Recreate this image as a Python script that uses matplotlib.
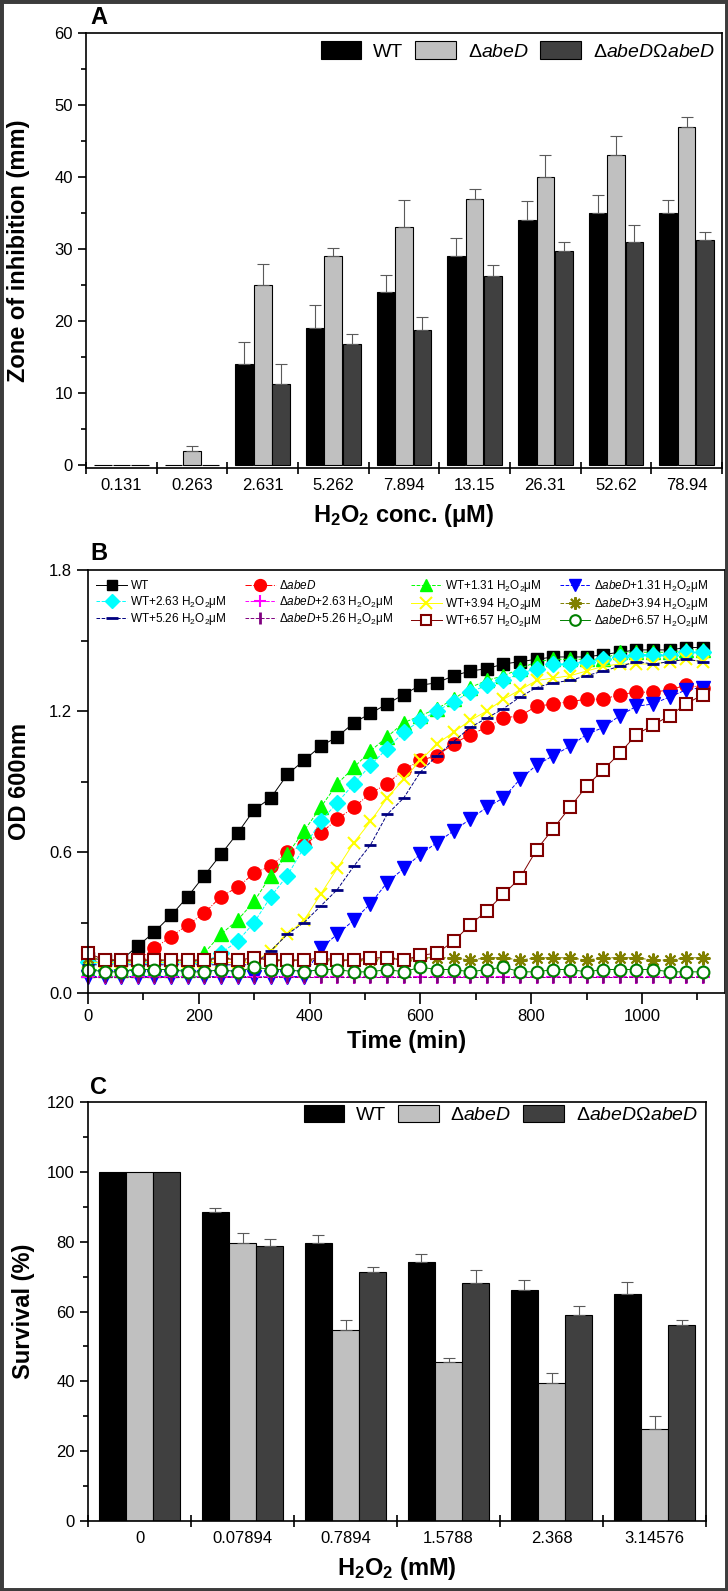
import numpy as np
import matplotlib
matplotlib.use('Agg')
import matplotlib.pyplot as plt
from matplotlib import font_manager
from matplotlib.patches import Rectangle

# ---- panel A: zone of inhibition ----
conc_a = ['0.131', '0.263', '2.631', '5.262', '7.894', '13.15', '26.31', '52.62', '78.94']
zone_wt = [0, 0, 14.0, 19.0, 24.0, 29.0, 34.0, 35.0, 35.0]
zone_wt_err = [0, 0, 3.1, 3.2, 2.4, 2.5, 2.7, 2.5, 1.8]
zone_ko = [0, 2.0, 25.0, 29.0, 33.0, 37.0, 40.0, 43.0, 47.0]
zone_ko_err = [0, 0.7, 2.9, 1.2, 3.8, 1.3, 3.0, 2.7, 1.4]
zone_comp = [0, 0, 11.2, 16.8, 18.8, 26.2, 29.7, 31.0, 31.2]
zone_comp_err = [0, 0, 2.8, 1.4, 1.8, 1.6, 1.3, 2.3, 1.1]

# ---- panel B: growth curves (OD600) ----
time_min = list(range(0, 1111, 30))
od_wt = [0.15, 0.14, 0.14, 0.20, 0.26, 0.33, 0.41, 0.50, 0.59, 0.68, 0.78, 0.83, 0.93, 0.99, 1.05, 1.09, 1.15, 1.19, 1.23,
         1.27, 1.31, 1.32, 1.35, 1.37, 1.38, 1.40, 1.41, 1.42, 1.43, 1.43, 1.43, 1.44, 1.45, 1.46, 1.46, 1.46, 1.47, 1.47]
od_ko = [0.14, 0.13, 0.13, 0.14, 0.19, 0.24, 0.29, 0.34, 0.41, 0.45, 0.51, 0.54, 0.60, 0.63, 0.68, 0.74, 0.79, 0.85, 0.89,
         0.95, 0.99, 1.01, 1.06, 1.10, 1.13, 1.17, 1.18, 1.22, 1.23, 1.24, 1.25, 1.25, 1.27, 1.28, 1.28, 1.29, 1.31, 1.30]
od_wt_131 = [0.10, 0.10, 0.10, 0.10, 0.10, 0.10, 0.10, 0.17, 0.25, 0.31, 0.39, 0.50, 0.59, 0.69, 0.79, 0.89, 0.96, 1.03, 1.09,
             1.15, 1.18, 1.21, 1.25, 1.30, 1.33, 1.35, 1.38, 1.41, 1.42, 1.42, 1.42, 1.42, 1.45, 1.45, 1.45, 1.45, 1.46, 1.46]
od_ko_131 = [0.07, 0.07, 0.07, 0.07, 0.07, 0.07, 0.07, 0.07, 0.07, 0.07, 0.07, 0.07, 0.07, 0.07, 0.19, 0.25, 0.31, 0.38, 0.47,
             0.53, 0.59, 0.64, 0.69, 0.74, 0.79, 0.83, 0.91, 0.97, 1.01, 1.05, 1.10, 1.13, 1.18, 1.22, 1.23, 1.26, 1.29, 1.30]
od_wt_263 = [0.13, 0.13, 0.13, 0.13, 0.13, 0.13, 0.13, 0.13, 0.17, 0.22, 0.30, 0.41, 0.50, 0.62, 0.73, 0.81, 0.89, 0.97, 1.04,
             1.11, 1.16, 1.20, 1.24, 1.28, 1.31, 1.33, 1.36, 1.38, 1.40, 1.40, 1.41, 1.42, 1.43, 1.44, 1.44, 1.44, 1.45, 1.45]
od_ko_263 = [0.07, 0.07, 0.07, 0.07, 0.07, 0.07, 0.07, 0.07, 0.07, 0.07, 0.07, 0.07, 0.07, 0.07, 0.07, 0.07, 0.07, 0.07, 0.07,
             0.07, 0.07, 0.07, 0.07, 0.07, 0.07, 0.07, 0.07, 0.07, 0.07, 0.07, 0.07, 0.07, 0.07, 0.07, 0.07, 0.07, 0.07, 0.07]
od_wt_394 = [0.13, 0.13, 0.13, 0.13, 0.13, 0.13, 0.13, 0.13, 0.13, 0.13, 0.13, 0.18, 0.25, 0.31, 0.42, 0.53, 0.64, 0.73, 0.83,
             0.91, 0.99, 1.06, 1.11, 1.16, 1.20, 1.25, 1.29, 1.33, 1.34, 1.35, 1.37, 1.39, 1.40, 1.40, 1.40, 1.41, 1.42, 1.41]
od_ko_394 = [0.15, 0.14, 0.14, 0.14, 0.14, 0.14, 0.14, 0.14, 0.15, 0.14, 0.15, 0.14, 0.14, 0.14, 0.14, 0.14, 0.14, 0.14, 0.15,
             0.14, 0.15, 0.15, 0.15, 0.14, 0.15, 0.15, 0.14, 0.15, 0.15, 0.15, 0.14, 0.15, 0.15, 0.15, 0.14, 0.14, 0.15, 0.15]
od_wt_526 = [0.12, 0.12, 0.12, 0.12, 0.12, 0.12, 0.12, 0.12, 0.12, 0.12, 0.12, 0.18, 0.25, 0.30, 0.37, 0.44, 0.54, 0.63, 0.76,
             0.83, 0.94, 1.01, 1.07, 1.13, 1.17, 1.21, 1.26, 1.30, 1.32, 1.33, 1.35, 1.37, 1.39, 1.41, 1.40, 1.41, 1.42, 1.41]
od_ko_526 = [0.07, 0.07, 0.07, 0.07, 0.07, 0.07, 0.07, 0.07, 0.07, 0.07, 0.07, 0.07, 0.07, 0.07, 0.07, 0.07, 0.07, 0.07, 0.07,
             0.07, 0.07, 0.07, 0.07, 0.07, 0.07, 0.07, 0.07, 0.07, 0.07, 0.07, 0.07, 0.07, 0.07, 0.07, 0.07, 0.07, 0.07, 0.07]
od_wt_657 = [0.17, 0.14, 0.14, 0.14, 0.14, 0.14, 0.14, 0.14, 0.15, 0.14, 0.15, 0.14, 0.14, 0.14, 0.15, 0.14, 0.14, 0.15, 0.15,
             0.14, 0.16, 0.17, 0.22, 0.29, 0.35, 0.42, 0.49, 0.61, 0.70, 0.79, 0.88, 0.95, 1.02, 1.10, 1.14, 1.18, 1.23, 1.27]
od_ko_657 = [0.10, 0.09, 0.09, 0.10, 0.10, 0.10, 0.09, 0.09, 0.10, 0.09, 0.11, 0.10, 0.10, 0.09, 0.10, 0.10, 0.09, 0.09, 0.10,
             0.09, 0.11, 0.10, 0.10, 0.09, 0.10, 0.11, 0.09, 0.09, 0.10, 0.10, 0.09, 0.10, 0.10, 0.10, 0.10, 0.09, 0.09, 0.09]

# ---- panel C: survival ----
conc_c = ['0', '0.07894', '0.7894', '1.5788', '2.368', '3.14576']
surv_wt = [100, 88.5, 79.5, 74.2, 66.3, 65.1]
surv_wt_err = [0, 1.2, 2.5, 2.2, 2.8, 3.4]
surv_ko = [100, 79.5, 54.7, 45.4, 39.6, 26.3]
surv_ko_err = [0, 3.1, 3.0, 1.4, 2.7, 3.8]
surv_comp = [100, 78.9, 71.4, 68.3, 59.1, 56.2]
surv_comp_err = [0, 2.0, 1.4, 3.5, 2.5, 1.3]

names = {f.name for f in font_manager.fontManager.ttflist}
NARROW = 'Liberation Sans Narrow' if 'Liberation Sans Narrow' in names else 'Liberation Sans'
plt.rcParams['font.family'] = ['Liberation Sans', 'DejaVu Sans']
plt.rcParams['mathtext.fontset'] = 'custom'
plt.rcParams['mathtext.rm'] = NARROW
plt.rcParams['mathtext.it'] = NARROW + ':italic'
plt.rcParams['mathtext.bf'] = 'Liberation Sans:bold'

W, H = 728, 1591
fig = plt.figure(figsize=(W / 100, H / 100), dpi=100)


def box(l, t, r, b):
    return [l / W, 1 - b / H, (r - l) / W, (b - t) / H]


axA = fig.add_axes(box(86, 33, 722, 468))
axB = fig.add_axes(box(88, 570, 725, 993))
axC = fig.add_axes(box(88, 1102, 706, 1521))

strain_labels = ['WT', r'Δ$\mathit{abeD}$', r'Δ$\mathit{abeD}$Ω$\mathit{abeD}$']
bar_colors = ['#000000', '#c0c0c0', '#404040']


def grouped_bars(ax, cats, vals, errs, width, offsets, leg_anchor):
    x = np.arange(len(cats))
    for v, e, c, lab, off in zip(vals, errs, bar_colors, strain_labels, offsets):
        ax.bar(x + off, v, width, color=c, edgecolor='black', linewidth=0.8, label=lab, zorder=2)
        e = np.array(e)
        m = e > 0
        ax.errorbar((x + off)[m], np.array(v)[m], yerr=[np.zeros(m.sum()), e[m]], fmt='none',
                    ecolor='#5a5a5a', elinewidth=0.8, capsize=4, capthick=0.8, zorder=3)
    ax.set_xlim(-0.5, len(cats) - 0.5)
    ax.set_xticks(np.arange(-0.5, len(cats), 1))
    ax.set_xticklabels([])
    ax.set_xticks(x, cats, minor=True)
    ax.tick_params(axis='x', which='major', direction='inout', length=9, width=1.2)
    ax.tick_params(axis='x', which='minor', length=0, pad=7, labelsize=12)
    for t in ax.get_xticklabels(minor=True):
        t.set_fontfamily(NARROW)
    ax.tick_params(axis='y', which='major', direction='out', length=6, width=1.2, labelsize=12)
    ax.tick_params(axis='y', which='minor', direction='out', length=3.5, width=1.2)
    for s in ax.spines.values():
        s.set_linewidth(1.2)
    ax.legend(ncol=3, loc='upper right', bbox_to_anchor=leg_anchor, frameon=False,
              borderaxespad=0, borderpad=0.1,
              handlelength=2.1, handleheight=1.0, handletextpad=0.6, columnspacing=0.6,
              prop={'family': NARROW, 'size': 14})


# panel A
grouped_bars(axA, conc_a, [zone_wt, zone_ko, zone_comp], [zone_wt_err, zone_ko_err, zone_comp_err],
             0.25, [-0.26, 0.0, 0.26], (0.992, 0.985))
axA.set_ylim(-0.4, 60)
axA.set_yticks(range(0, 61, 10))
axA.set_yticks(range(5, 60, 10), minor=True)
for t in axA.get_yticklabels():
    t.set_fontfamily(NARROW)
axA.set_ylabel('Zone of inhibition (mm)', fontsize=17, fontweight='bold')
axA.yaxis.set_label_coords(-0.088, 0.5)
axA.set_xlabel(r'H$_\mathbf{2}$O$_\mathbf{2}$ conc. (μM)', fontsize=17, fontweight='bold', labelpad=7)

# panel C
grouped_bars(axC, conc_c, [surv_wt, surv_ko, surv_comp], [surv_wt_err, surv_ko_err, surv_comp_err],
             0.26, [-0.265, 0.0, 0.265], (0.99, 0.998))
axC.set_ylim(0, 120)
axC.set_yticks(range(0, 121, 20))
axC.set_yticks(range(10, 120, 20), minor=True)
for t in axC.get_yticklabels():
    t.set_fontfamily(NARROW)
axC.set_ylabel('Survival (%)', fontsize=17, fontweight='bold')
axC.yaxis.set_label_coords(-0.085, 0.5)
axC.set_xlabel(r'H$_\mathbf{2}$O$_\mathbf{2}$ (mM)', fontsize=17, fontweight='bold', labelpad=7)

# panel B
h2o2 = r' H$_2$O$_2$μM'
ko = r'Δ$\mathit{abeD}$'
series = [
    ('WT', od_wt, dict(color='black', marker='s', ms=8.5, ls='-')),
    (ko, od_ko, dict(color='red', marker='o', ms=9.5, ls='-.')),
    ('WT+1.31' + h2o2, od_wt_131, dict(color='#00ff00', marker='^', ms=9.5, ls='--')),
    (ko + '+1.31' + h2o2, od_ko_131, dict(color='#0000ff', marker='v', ms=9.5, ls='--')),
    ('WT+2.63' + h2o2, od_wt_263, dict(color='#00ffff', marker='D', ms=8, ls='--')),
    (ko + '+2.63' + h2o2, od_ko_263, dict(color='#ff00ff', marker='+', ms=10, mew=1.5, ls='--')),
    ('WT+3.94' + h2o2, od_wt_394, dict(color='#ffff00', marker='x', ms=9, mew=1.5, ls='-')),
    (ko + '+3.94' + h2o2, od_ko_394, dict(color='#808000', marker=(8, 2, 0), ms=10, mew=1.5, ls='--')),
    ('WT+5.26' + h2o2, od_wt_526, dict(color='#000080', marker='_', ms=9, mew=2, ls='--')),
    (ko + '+5.26' + h2o2, od_ko_526, dict(color='#800080', marker='|', ms=9, mew=2, ls='--')),
    ('WT+6.57' + h2o2, od_wt_657, dict(color='#800000', marker='s', ms=8, mfc='white', mew=1.5, ls='-')),
    (ko + '+6.57' + h2o2, od_ko_657, dict(color='#008000', marker='o', ms=8.5, mfc='white', mew=1.5, ls='-')),
]
handles = []
for lab, vals, kw in series:
    ln, = axB.plot(time_min, vals, lw=0.7, label=lab, clip_on=False, **kw)
    handles.append(ln)
order = [0, 4, 8, 1, 5, 9, 2, 6, 10, 3, 7, 11]
axB.legend([handles[i] for i in order], [series[i][0] for i in order], ncol=4, loc='upper left',
           bbox_to_anchor=(0.0, 1.0), frameon=False, handlelength=2.6, handletextpad=0.3,
           columnspacing=1.5, labelspacing=0.12, borderaxespad=0.3, markerscale=0.9,
           prop={'family': NARROW, 'size': 8.5})
axB.set_xlim(0, 1150)
axB.set_ylim(0, 1.8)
axB.set_xticks(range(0, 1001, 200))
axB.set_xticks(range(100, 1101, 200), minor=True)
axB.set_yticks([0, 0.6, 1.2, 1.8])
axB.set_yticks([0.3, 0.9, 1.5], minor=True)
axB.yaxis.set_major_formatter(matplotlib.ticker.FormatStrFormatter('%.1f'))
axB.tick_params(which='major', direction='out', length=8, width=1.2, labelsize=12)
axB.tick_params(which='minor', direction='out', length=5, width=1.2)
for s in axB.spines.values():
    s.set_linewidth(1.2)
axB.set_xlabel('Time (min)', fontsize=17, fontweight='bold', labelpad=4)
axB.set_ylabel('OD 600nm', fontsize=17, fontweight='bold')
axB.yaxis.set_label_coords(-0.09, 0.5)

for txt, y in [('A', 17), ('B', 553), ('C', 1087)]:
    fig.text(90 / W, 1 - y / H, txt, fontsize=17, fontweight='bold', va='center', ha='left')

fig.patches.append(Rectangle((0, 0), 1, 1, transform=fig.transFigure, fill=False,
                             edgecolor='#3c3c3c', linewidth=5, zorder=10))

fig.savefig('out.png', dpi=100)
